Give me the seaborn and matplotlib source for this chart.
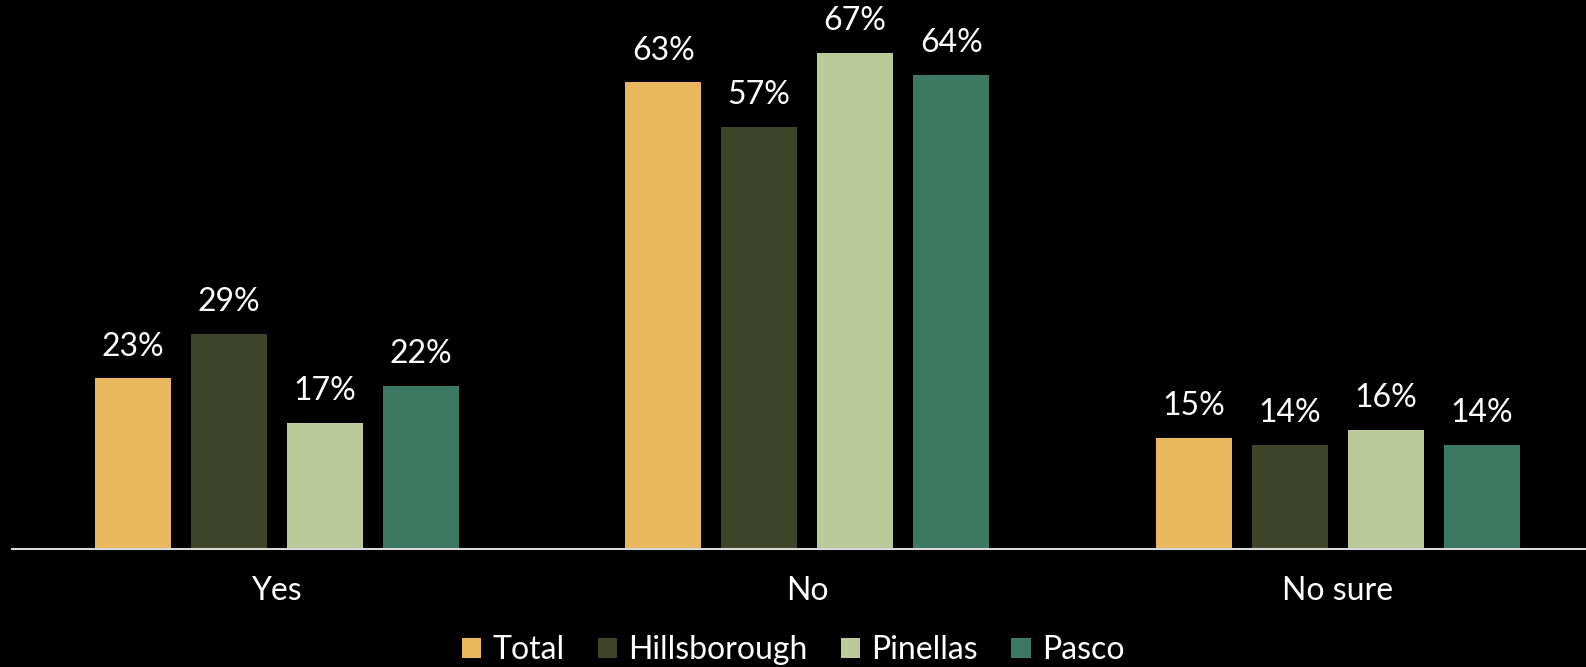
import matplotlib
matplotlib.use("Agg")
import matplotlib.pyplot as plt
import seaborn as sns
import pandas as pd

# data
categories = ["Yes", "No", "No sure"]
groups = ["Total", "Hillsborough", "Pinellas", "Pasco"]
total = [23, 63, 15]
hillsborough = [29, 57, 14]
pinellas = [17, 67, 16]
pasco = [22, 64, 14]

colors = ["#E9B75C", "#3D4428", "#BCC99A", "#3C7862"]

rows = []
for g, vals in zip(groups, [total, hillsborough, pinellas, pasco]):
    for c, v in zip(categories, vals):
        rows.append({"answer": c, "group": g, "value": v})
df = pd.DataFrame(rows)

sns.set_style("dark")
plt.rcParams["font.family"] = ["Lato", "DejaVu Sans"]
plt.rcParams["text.color"] = "white"

fig = plt.figure(figsize=(15.86, 6.67), dpi=100, facecolor="black")
ax = fig.add_axes([12.1 / 1586, 0.1775, 1 - 12.1 / 1586, 0.8225])
ax.set_facecolor("black")

sns.barplot(data=df, x="answer", y="value", hue="group", order=categories,
            hue_order=groups, palette=colors, width=0.724, gap=0.21,
            saturation=1, edgecolor="none", linewidth=0, ax=ax, legend=True)

for cont in ax.containers:
    labels = [f"{v:.0f}%" for v in cont.datavalues]
    ax.bar_label(cont, labels=labels, padding=12, fontsize=23, color="white")

ax.set_ylim(0, 74.1)
ax.set_xlim(-0.4986, 2.468)
ax.set_xlabel("")
ax.set_ylabel("")
ax.set_yticks([])
ax.grid(False)
ax.tick_params(axis="x", length=0, pad=20, labelsize=23, labelcolor="white")
for side in ["left", "right", "top"]:
    ax.spines[side].set_visible(False)
ax.spines["bottom"].set_color("#d9d9d9")
ax.spines["bottom"].set_linewidth(1.5)

ax.legend_.remove()
handles, labels = ax.get_legend_handles_labels()
leg = fig.legend(handles, labels, loc="center", bbox_to_anchor=(0.5, 0.025),
                 ncol=4, frameon=False, fontsize=23, handlelength=0.6,
                 handleheight=0.6, handletextpad=0.35, columnspacing=1.05,
                 labelcolor="white")

fig.savefig("out.png", dpi=100, facecolor="black")
